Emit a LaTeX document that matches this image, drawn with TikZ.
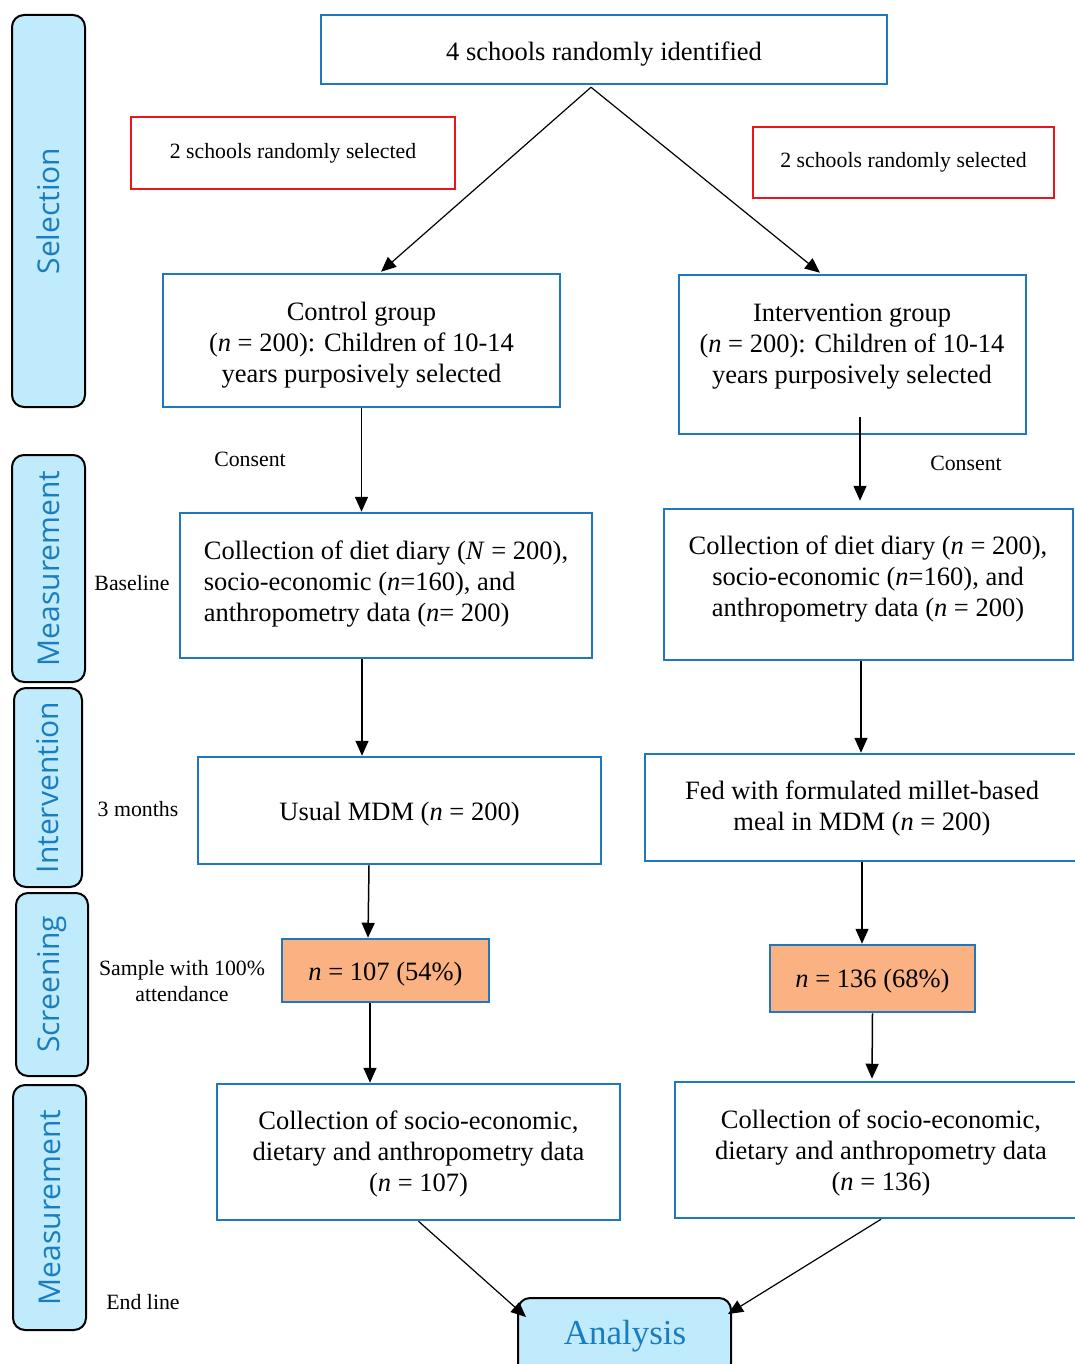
\documentclass[tikz,border=0pt]{standalone}
\usepackage{fontspec}
\setmainfont{Liberation Serif}
\newfontfamily\sidefont{Open Sans}
\usetikzlibrary{arrows.meta,calc}
\definecolor{boxblue}{RGB}{31,120,190}
\definecolor{txtblue}{RGB}{26,125,192}
\definecolor{lightfill}{RGB}{192,235,252}
\definecolor{orangefill}{RGB}{251,178,130}
\definecolor{redline}{RGB}{235,20,27}
\newcommand{\nn}{\textit{n}}
\begin{document}
\begin{tikzpicture}[x=1pt,y=-1pt,
  mainbox/.style={draw=boxblue,line width=2.5pt,inner sep=0pt},
  btext/.style={align=center,inner sep=0pt,font=\fontsize{26.5}{31}\selectfont},
  redbox/.style={draw=redline,line width=2pt,inner sep=0pt,font=\fontsize{21.8}{26}\selectfont},
  orangebox/.style={mainbox,fill=orangefill},
  sidebar/.style={draw=black,line width=2pt,fill=lightfill,rounded corners=12pt,rotate=90,inner sep=0pt,text=txtblue,font=\sidefont\fontsize{30}{36}\selectfont},
  smalllabel/.style={align=center,inner sep=0pt,font=\fontsize{21.8}{25.5}\selectfont},
  arr/.style={line width=1.5pt,-{Triangle[length=15pt,width=13pt]}},
  thinarr/.style={line width=1.2pt,-{Triangle[length=15pt,width=13pt]}}
]
\useasboundingbox (0,0) rectangle (1075,1364);
\clip (0,0) rectangle (1075,1364);
\fill[white] (0,0) rectangle (1075,1364);

% side bars
\node[sidebar,minimum width=392pt,minimum height=73pt] (sel) at (48.5,211) {Selection};
\node[sidebar,minimum width=227pt,minimum height=73pt] (meas1) at (48.5,568.5) {Measurement};
\node[sidebar,minimum width=199pt,minimum height=68pt] (intvbar) at (48,787.5) {Intervention};
\node[sidebar,minimum width=183pt,minimum height=72pt] (scr) at (52,984.5) {Screening};
\node[sidebar,minimum width=245pt,minimum height=73pt] (meas2) at (49.5,1207.5) {Measurement};

% main boxes
\node[mainbox,minimum width=566pt,minimum height=69pt] (top) at (604,49.5) {};
\node[btext] (topt) at (604,54.5) {4 schools randomly identified};
\node[redbox,minimum width=324pt,minimum height=72pt] (redL) at (293,153) {2 schools randomly selected};
\node[redbox,minimum width=301pt,minimum height=71pt] (redR) at (903.5,162.5) {2 schools randomly selected};

\node[mainbox,minimum width=397pt,minimum height=133pt] (ctl) at (361.5,340.5) {};
\node[btext] (ctlt) at (361.5,345.5) {Control group\\(\nn{} = 200): Children of 10-14\\years purposively selected};
\node[mainbox,minimum width=347pt,minimum height=159pt] (intv) at (852.5,354.5) {};
\node[btext] (intvt) at (852,347) {Intervention group\\(\nn{} = 200): Children of 10-14\\years purposively selected};

\node[mainbox,minimum width=412pt,minimum height=145pt] (dietL) at (386,585.5) {};
\node[btext,align=left] (dietLt) at (386,584.5) {Collection of diet diary (\textit{N} = 200),\\socio-economic (\nn=160), and\\anthropometry data (\nn= 200)};
\node[mainbox,minimum width=409pt,minimum height=151pt] (dietR) at (868.5,584.5) {};
\node[btext] (dietRt) at (868,579) {Collection of diet diary (\nn{} = 200),\\socio-economic (\nn=160), and\\anthropometry data (\nn{} = 200)};

\node[mainbox,minimum width=403pt,minimum height=107pt] (usual) at (399.5,810.5) {};
\node[btext] (usualt) at (399.5,814.5) {Usual MDM (\nn{} = 200)};
\node[mainbox,minimum width=434pt,minimum height=107pt] (fed) at (862,807.5) {};
\node[btext] (fedt) at (862,808.5) {Fed with formulated millet-based\\meal in MDM (\nn{} = 200)};

\node[orangebox,minimum width=207pt,minimum height=63pt] (orL) at (385.5,970.5) {};
\node[btext] (orLt) at (385.5,974.5) {\nn{} = 107 (54\%)};
\node[orangebox,minimum width=205pt,minimum height=67pt] (orR) at (872.5,978.5) {};
\node[btext] (orRt) at (872.5,981.5) {\nn{} = 136 (68\%)};

\node[mainbox,minimum width=403pt,minimum height=136pt] (collL) at (418.5,1152) {};
\node[btext] (collLt) at (418.5,1154) {Collection of socio-economic,\\dietary and anthropometry data\\(\nn{} = 107)};
\node[mainbox,minimum width=405pt,minimum height=136pt] (collR) at (877.5,1150) {};
\node[btext] (collRt) at (881,1153) {Collection of socio-economic,\\dietary and anthropometry data\\(\nn{} = 136)};

\node[draw=black,line width=2pt,fill=lightfill,rounded corners=12pt,minimum width=213pt,minimum height=77pt,inner sep=0pt] (ana) at (624.5,1336.5) {};
\node[inner sep=0pt,text=txtblue,font=\fontsize{35}{40}\selectfont] (anat) at (625,1336) {Analysis};

% labels
\node[smalllabel] (cons1) at (250,459) {Consent};
\node[smalllabel] (cons2) at (966,463) {Consent};
\node[smalllabel] (base) at (132,583) {Baseline};
\node[smalllabel] (months) at (138,809) {3 months};
\node[smalllabel] (samp) at (182,981) {Sample with 100\%\\attendance};
\node[smalllabel] (endl) at (143,1302) {End line};

% connector anchor points
\coordinate (c1) at ($(intv.south)+(7.5,-18)$);
\coordinate (c2) at ($(dietL.south)+(-24,0)$);
\coordinate (c3) at ($(dietR.south)+(-7.5,0)$);
\coordinate (c4) at ($(orL.south)+(-15.5,0)$);

% connectors
\draw[thinarr] ($(top.south)+(-13,2)$) -- ($(ctl.north)+(19.5,-1)$);
\draw[thinarr] ($(top.south)+(-13,2)$) -- ($(intv.north)+(-32.5,-1)$);
\draw[arr] (ctl.south) -- (ctl.south |- dietL.north);
\draw[arr,shorten >=7pt] (c1) -- (c1 |- dietR.north);
\draw[arr] (c2) -- (c2 |- usual.north);
\draw[arr] (c3) -- (c3 |- fed.north);
\draw[arr] ($(usual.south)+(-30.5,0)$) -- ($(orL.north)+(-17.5,0)$);
\draw[arr] (fed.south) -- (fed.south |- orR.north);
\draw[arr] (c4) -- (c4 |- collL.north);
\draw[arr] (orR.south) -- ($(collR.north)+(-5.5,-2)$);
\draw[thinarr] (collL.south) -- ($(ana.north west)+(9,20)$);
\draw[thinarr] ($(collR.south)+(3.5,0)$) -- ($(ana.north east)+(-4,17)$);
\end{tikzpicture}
\end{document}
